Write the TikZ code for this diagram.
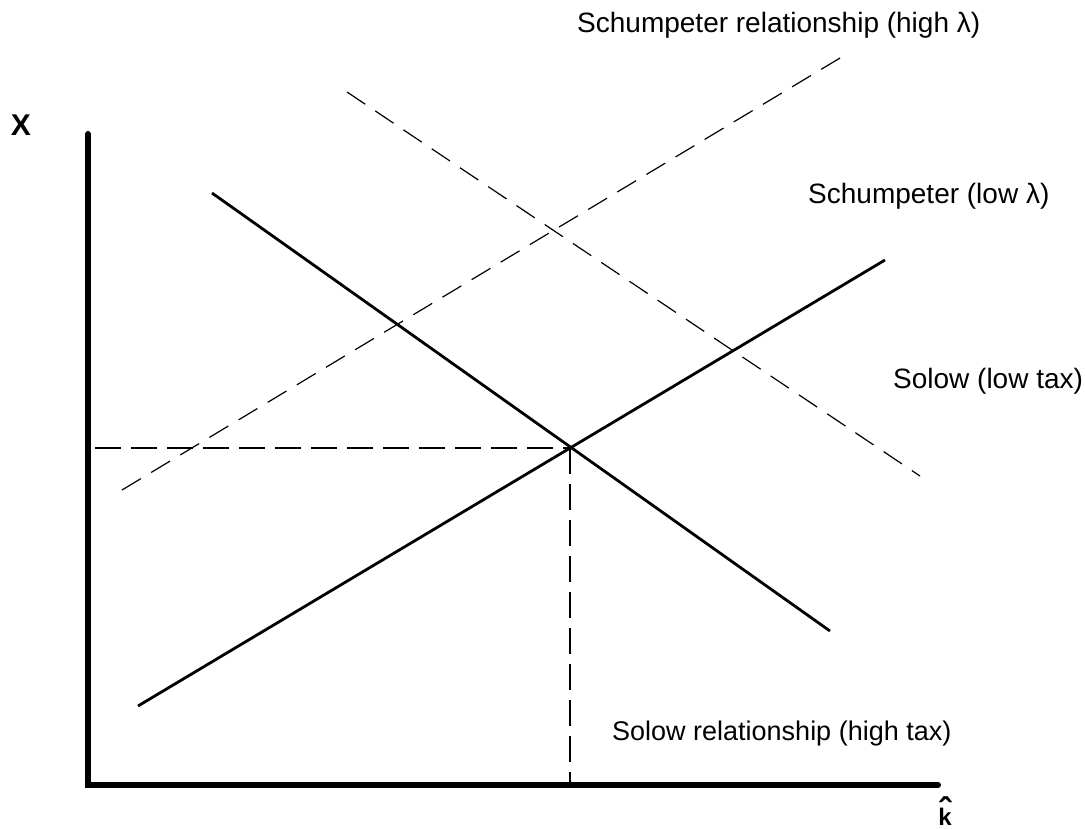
\documentclass[tikz,border=0pt]{standalone}
\usepackage{fontspec}
\setmainfont{Liberation Sans}
\begin{document}
\begin{tikzpicture}[x=1pt,y=-1pt,
  axis/.style={line width=6pt, line cap=round},
  curve/.style={line width=2.8pt},
  thindash/.style={line width=1.2pt, dash pattern=on 22pt off 12pt},
  guide/.style={line width=1.6pt, dash pattern=on 26pt off 10pt},
  lbl/.style={font=\fontsize{28}{32}\selectfont, anchor=base west, inner sep=0pt}]
\useasboundingbox (0,0) rectangle (1085,828);
% axes
\coordinate (ytop) at (88,134);
\coordinate (origin) at (88,785);
\coordinate (xend) at (938,785);
\draw[axis] (ytop) -- (origin) -- (xend);
% solid curves
\coordinate (sa) at (212,193);
\coordinate (sb) at (830,631);
\coordinate (ca) at (138,706);
\coordinate (cb) at (885,260);
\draw[curve] (sa) -- (sb);
\draw[curve] (ca) -- (cb);
% dashed curves
\coordinate (ha) at (122,490);
\coordinate (hb) at (845,55);
\coordinate (la) at (347,92);
\coordinate (lb) at (920,476);
\draw[thindash] (ha) -- (hb);
\draw[thindash] (la) -- (lb);
% guides
\coordinate (eq) at (570,448);
\coordinate (gy) at (95,448);
\coordinate (gx) at (570,785);
\draw[guide] (gy) -- (eq);
\draw[guide] (eq) -- (gx);
% labels
\node[font=\fontsize{30}{32}\selectfont\bfseries, inner sep=0pt] (xl) at (21,125.5) {X};
\node[inner sep=0pt, anchor=base] (kl) at (945,825)
  {\bfseries\ooalign{\hfil\raisebox{2pt}{\fontsize{36}{36}\selectfont ˆ}\hfil\cr\hfil\fontsize{24}{28}\selectfont k\hfil\cr}};
\node[lbl] (t1) at (577,32) {Schumpeter relationship (high λ)};
\node[lbl] (t2) at (808,203) {Schumpeter (low λ)};
\node[lbl] (t3) at (893,388) {Solow (low tax)};
\node[lbl, font=\fontsize{27}{31}\selectfont] (t4) at (612,740) {Solow relationship (high tax)};
\end{tikzpicture}
\end{document}
